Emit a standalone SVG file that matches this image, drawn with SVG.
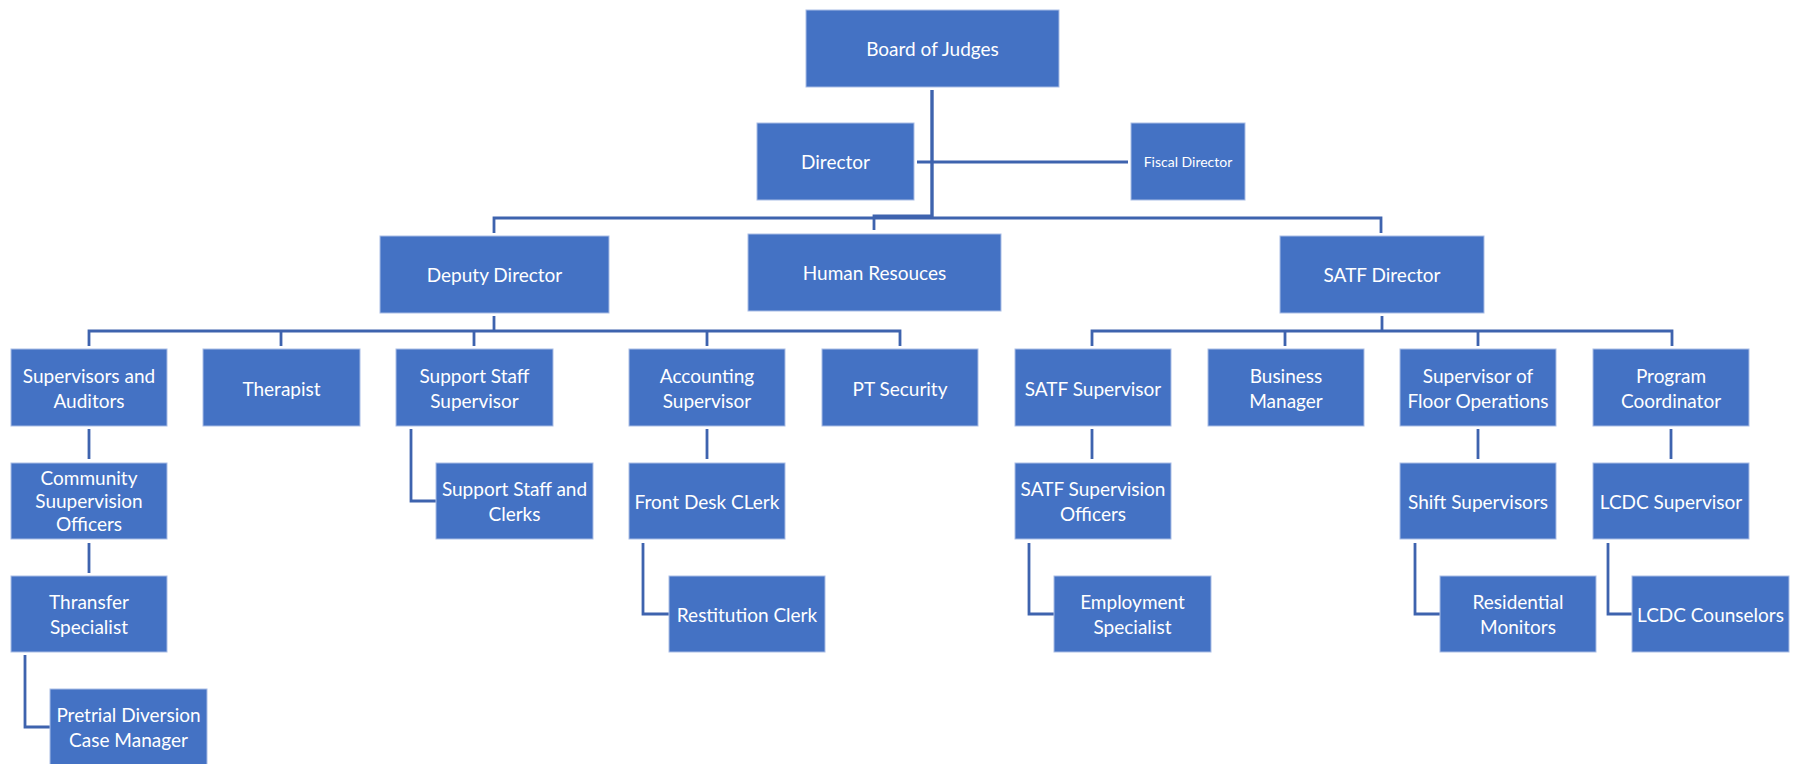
<svg xmlns="http://www.w3.org/2000/svg" width="1796" height="764" viewBox="0 0 1796 764">
<style>
.box{fill:#4472C4;stroke:#A9BDE5;stroke-width:1}
.t{font-family:Lato,"Open Sans","Liberation Sans",sans-serif;font-size:19px;fill:#ffffff;text-anchor:middle;dominant-baseline:central}
.s{font-size:14px}
.c{fill:none;stroke:#3E63AE;stroke-width:2.8}
.k{stroke-width:3.4}
</style>
<rect width="1796" height="764" fill="#ffffff"/>
<g id="connectors">
<path class="c k" d="M932 90V218"/>
<path class="c" d="M917 162H1128"/>
<path class="c" d="M494 233V218H1381V233"/>
<path class="c" d="M932 216H874V230"/>
<path class="c" d="M494 316V331"/>
<path class="c" d="M89 346V331H900V346"/>
<path class="c" d="M281 331V346M474 331V346M707 331V346"/>
<path class="c" d="M1382 316V331"/>
<path class="c" d="M1092 346V331H1672V346"/>
<path class="c" d="M1285 331V346M1478 331V346"/>
<path class="c" d="M89 429V459M89 543V573"/>
<path class="c" d="M25 655V727H50"/>
<path class="c" d="M411 429V501H436"/>
<path class="c" d="M707 429V459"/>
<path class="c" d="M643 543V614H669"/>
<path class="c" d="M1092 429V459"/>
<path class="c" d="M1029 543V614H1054"/>
<path class="c" d="M1478 429V459"/>
<path class="c" d="M1415 543V614H1440"/>
<path class="c" d="M1671 429V459"/>
<path class="c" d="M1608 543V614H1632"/>
</g>
<g id="board"><rect class="box" x="806" y="10" width="253" height="77"/><text class="t" x="932.5" y="48">Board of Judges</text></g>
<g id="director"><rect class="box" x="757" y="123" width="157" height="77"/><text class="t" x="835.5" y="161">Director</text></g>
<g id="fiscal"><rect class="box" x="1131" y="123" width="114" height="77"/><text class="t s" x="1188" y="161">Fiscal Director</text></g>
<g id="deputy"><rect class="box" x="380" y="236" width="229" height="77"/><text class="t" x="494.5" y="274">Deputy Director</text></g>
<g id="hr"><rect class="box" x="748" y="234" width="253" height="77"/><text class="t" x="874.5" y="272">Human Resouces</text></g>
<g id="satf"><rect class="box" x="1280" y="236" width="204" height="77"/><text class="t" x="1382" y="274">SATF Director</text></g>
<g id="supaud"><rect class="box" x="11" y="349" width="156" height="77"/><text class="t" x="89" y="375">Supervisors and</text><text class="t" x="89" y="400">Auditors</text></g>
<g id="therapist"><rect class="box" x="203" y="349" width="157" height="77"/><text class="t" x="281.5" y="388">Therapist</text></g>
<g id="sss"><rect class="box" x="396" y="349" width="157" height="77"/><text class="t" x="474.5" y="375">Support Staff</text><text class="t" x="474.5" y="400">Supervisor</text></g>
<g id="acct"><rect class="box" x="629" y="349" width="156" height="77"/><text class="t" x="707" y="375">Accounting</text><text class="t" x="707" y="400">Supervisor</text></g>
<g id="pt"><rect class="box" x="822" y="349" width="156" height="77"/><text class="t" x="900" y="388">PT Security</text></g>
<g id="satfsup"><rect class="box" x="1015" y="349" width="156" height="77"/><text class="t" x="1093" y="388">SATF Supervisor</text></g>
<g id="bm"><rect class="box" x="1208" y="349" width="156" height="77"/><text class="t" x="1286" y="375">Business</text><text class="t" x="1286" y="400">Manager</text></g>
<g id="sfo"><rect class="box" x="1400" y="349" width="156" height="77"/><text class="t" x="1478" y="375">Supervisor of</text><text class="t" x="1478" y="400">Floor Operations</text></g>
<g id="pc"><rect class="box" x="1593" y="349" width="156" height="77"/><text class="t" x="1671" y="375">Program</text><text class="t" x="1671" y="400">Coordinator</text></g>
<g id="cso"><rect class="box" x="11" y="463" width="156" height="76"/><text class="t" x="89" y="477">Community</text><text class="t" x="89" y="500">Suupervision</text><text class="t" x="89" y="523">Officers</text></g>
<g id="ssc"><rect class="box" x="436" y="463" width="157" height="76"/><text class="t" x="514.5" y="488">Support Staff and</text><text class="t" x="514.5" y="513">Clerks</text></g>
<g id="fdc"><rect class="box" x="629" y="463" width="156" height="76"/><text class="t" x="707" y="501">Front Desk CLerk</text></g>
<g id="satfso"><rect class="box" x="1015" y="463" width="156" height="76"/><text class="t" x="1093" y="488">SATF Supervision</text><text class="t" x="1093" y="513">Officers</text></g>
<g id="shift"><rect class="box" x="1400" y="463" width="156" height="76"/><text class="t" x="1478" y="501">Shift Supervisors</text></g>
<g id="lcdcsup"><rect class="box" x="1593" y="463" width="156" height="76"/><text class="t" x="1671" y="501">LCDC Supervisor</text></g>
<g id="transfer"><rect class="box" x="11" y="576" width="156" height="76"/><text class="t" x="89" y="601">Thransfer</text><text class="t" x="89" y="626">Specialist</text></g>
<g id="restitution"><rect class="box" x="669" y="576" width="156" height="76"/><text class="t" x="747" y="614">Restitution Clerk</text></g>
<g id="employment"><rect class="box" x="1054" y="576" width="157" height="76"/><text class="t" x="1132.5" y="601">Employment</text><text class="t" x="1132.5" y="626">Specialist</text></g>
<g id="residential"><rect class="box" x="1440" y="576" width="156" height="76"/><text class="t" x="1518" y="601">Residential</text><text class="t" x="1518" y="626">Monitors</text></g>
<g id="counselors"><rect class="box" x="1632" y="576" width="157" height="76"/><text class="t" x="1710.5" y="614">LCDC Counselors</text></g>
<g id="pretrial"><rect class="box" x="50" y="689" width="157" height="77"/><text class="t" x="128.5" y="714">Pretrial Diversion</text><text class="t" x="128.5" y="739">Case Manager</text></g>
</svg>
